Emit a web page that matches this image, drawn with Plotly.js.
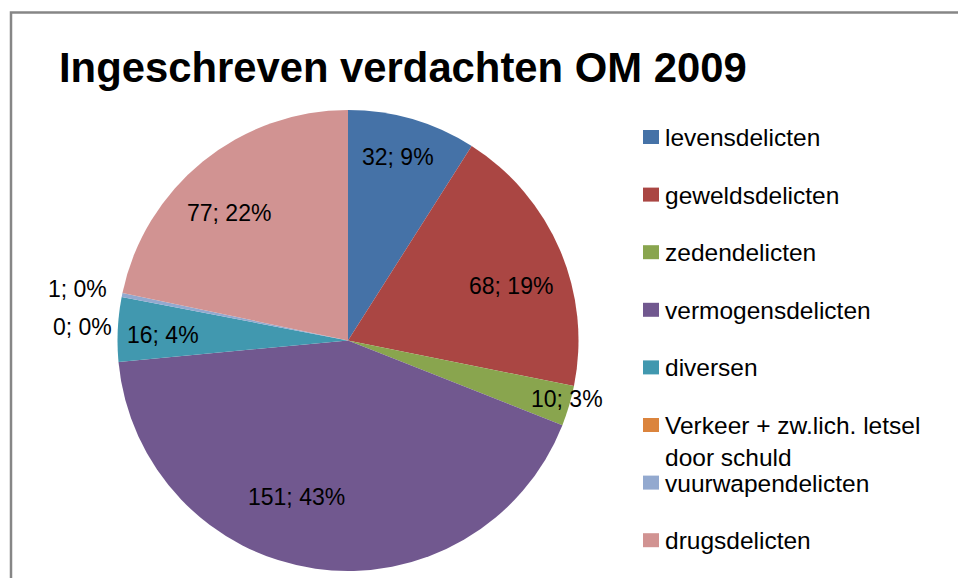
<!DOCTYPE html>
<html>
<head>
<meta charset="utf-8">
<script src="https://cdn.plot.ly/plotly-3.0.1.min.js"></script>
<style>
  html, body { margin: 0; padding: 0; background: #fff; }
  #chart { width: 958px; height: 578px; }
</style>
</head>
<body>
<div id="chart"></div>
<script>
// ---- data ----
const chartTitle = 'Ingeschreven verdachten OM 2009';
const categories = [
  'levensdelicten',
  'geweldsdelicten',
  'zedendelicten',
  'vermogensdelicten',
  'diversen',
  'Verkeer + zw.lich. letsel<br>door schuld',
  'vuurwapendelicten',
  'drugsdelicten'
];
const values = [32, 68, 10, 151, 16, 0, 1, 77];
const pctLabels = ['9%', '19%', '3%', '43%', '4%', '0%', '0%', '22%'];
const colors = ['#4572A7', '#AA4643', '#89A54E', '#71588F', '#4198AF', '#DB843D', '#93A9CF', '#D19392'];

// ---- styling / layout ----
const W = 958, H = 578;
const pieBox = { left: 117, right: 579, top: 110, bottom: 571 };
const labelRadius = [0.82, 0.75, 0.98, 0.71, 0.80, 1.15, 1.19, 0.755];
const labelShiftX = [-3, 4, 2, -28, -1, -5, -2, -9];
const labelShiftY = [-2, 13, -6, -6, 3, 37, 3, 8];   // screen px, down positive
const labelFont = { family: 'Liberation Sans, Arial, sans-serif', size: 23, color: '#000' };
const legendFont = { family: 'Liberation Sans, Arial, sans-serif', size: 24.5, color: '#000' };
const legendX0 = 643, legendSym = { w: 16, h: 14 }, legendTextX = 664;
const legendY0 = 137, legendPitch = 57.6;

const px = x => x / W;
const py = y => 1 - y / H;

const pie = {
  type: 'pie',
  labels: categories,
  values: values,
  sort: false,
  direction: 'clockwise',
  rotation: 0,
  textinfo: 'none',
  hoverinfo: 'label+value+percent',
  marker: { colors: colors, line: { width: 0 } },
  domain: { x: [px(pieBox.left), px(pieBox.right)], y: [py(pieBox.bottom), py(pieBox.top)] },
  showlegend: false
};

// slice labels, positioned from the cumulative values
const cx = (pieBox.left + pieBox.right) / 2;
const cy = (pieBox.top + pieBox.bottom) / 2;
const R = Math.min(pieBox.right - pieBox.left, pieBox.bottom - pieBox.top) / 2;
const total = values.reduce((a, b) => a + b, 0);
const annotations = [];
let cum = 0;
values.forEach((v, i) => {
  const mid = (cum + v / 2) / total * 2 * Math.PI;
  cum += v;
  const r = labelRadius[i] * R;
  const x = cx + r * Math.sin(mid) + labelShiftX[i];
  const y = cy - r * Math.cos(mid) + labelShiftY[i];
  annotations.push({
    xref: 'paper', yref: 'paper', x: px(x), y: py(y),
    xanchor: 'center', yanchor: 'middle',
    text: v + '; ' + pctLabels[i],
    showarrow: false, font: labelFont, borderpad: 0
  });
});

// legend (manual, to reproduce the spacing of the original)
const shapes = [];
categories.forEach((c, i) => {
  const yc = legendY0 + i * legendPitch;
  shapes.push({
    type: 'rect', xref: 'paper', yref: 'paper',
    x0: px(legendX0), x1: px(legendX0 + legendSym.w),
    y0: py(yc + legendSym.h / 2), y1: py(yc - legendSym.h / 2),
    fillcolor: colors[i], line: { width: 0 }
  });
  annotations.push({
    xref: 'paper', yref: 'paper', x: px(legendTextX), y: py(yc - 14),
    xanchor: 'left', yanchor: 'top', align: 'left',
    text: c, showarrow: false, font: legendFont, borderpad: 0
  });
});

// outer chart border
shapes.push({
  type: 'rect', xref: 'paper', yref: 'paper',
  x0: px(11), x1: px(W + 20), y0: py(H + 20), y1: py(12.5),
  line: { color: '#868686', width: 2.5 }, fillcolor: 'rgba(0,0,0,0)'
});

const layout = {
  width: W, height: H,
  margin: { l: 0, r: 0, t: 0, b: 0 },
  paper_bgcolor: '#ffffff',
  plot_bgcolor: '#ffffff',
  showlegend: false,
  title: {
    text: chartTitle,
    x: px(59), xanchor: 'left', xref: 'container',
    y: py(67), yanchor: 'middle', yref: 'container',
    font: { family: 'Liberation Sans, Arial, sans-serif', size: 41.8, weight: 'bold', color: '#000' }
  },
  annotations: annotations,
  shapes: shapes
};

Plotly.newPlot('chart', [pie], layout, { displayModeBar: false, staticPlot: true });
</script>
</body>
</html>
